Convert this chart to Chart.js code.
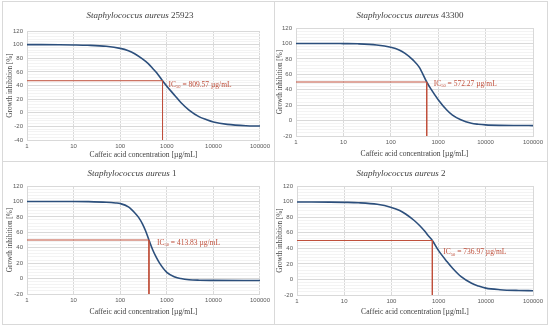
<!DOCTYPE html>
<html>
<head>
<meta charset="utf-8">
<script src="https://cdn.jsdelivr.net/npm/chart.js@4.4.1/dist/chart.umd.min.js"></script>
<style>
  body { margin: 0; background: #fff; }
  #wrap { position: relative; width: 550px; height: 326px; overflow: hidden; }
  canvas { position: absolute; }
  .box { position: absolute; border: 1px solid #d9d9d9; box-sizing: border-box; }
</style>
</head>
<body>
<div id="wrap">
  <div class="box" style="left:2px;top:1px;width:273px;height:161px"></div>
  <div class="box" style="left:274px;top:1px;width:274px;height:161px"></div>
  <div class="box" style="left:2px;top:161px;width:273px;height:164px"></div>
  <div class="box" style="left:274px;top:161px;width:274px;height:164px"></div>
  <canvas id="c1" width="273" height="161" style="left:0;top:0"></canvas>
  <canvas id="c2" width="275" height="161" style="left:275px;top:0"></canvas>
  <canvas id="c3" width="273" height="163" style="left:0;top:163px"></canvas>
  <canvas id="c4" width="275" height="163" style="left:275px;top:163px"></canvas>
</div>
<script>
// strain numbers (the species name is the same for all)
var strains = ["25923", "43300", "1", "2"];
var ic50 = [809.57, 572.27, 413.83, 736.97];
var ic50Labels = ["809.57", "572.27", "413.83", "736.97"];
var ic50LineY = [47, 50, 50, 50];
var yMins = [-40, -20, -20, -20];
var xTicks = [1, 10, 100, 1000, 10000, 100000];

// concentration [µg/mL] and growth inhibition [%]
var conc1 = [1, 2, 5, 10, 20, 50, 100, 150, 200, 300, 400, 500, 600, 809.57, 1000, 1500, 2000, 3000, 5000, 7000, 10000, 20000, 50000, 100000];
var inh1  = [100, 100, 99.8, 99.5, 99, 97.5, 94.5, 91, 87, 79, 72, 65, 59, 47, 39, 25, 15, 4, -6, -10, -13.5, -17, -19, -19.5];

var conc2 = [1, 2, 5, 10, 20, 50, 100, 150, 200, 300, 400, 572.27, 700, 1000, 1500, 2000, 3000, 5000, 7000, 10000, 20000, 50000, 100000];
var inh2  = [100, 100, 100, 99.8, 99.5, 98, 95, 91.5, 87, 78, 69, 50, 41, 27, 14, 7, 1, -3.5, -4.8, -5.6, -6.2, -6.4, -6.5];

var conc3 = [1, 2, 5, 10, 20, 50, 80, 100, 150, 200, 250, 300, 350, 413.83, 500, 600, 700, 1000, 1500, 2000, 3000, 5000, 10000, 100000];
var inh3  = [100, 100, 100, 100, 99.8, 99, 98, 97.2, 93, 86, 79, 71, 62, 50, 37, 27, 20, 8, 2, 0, -1.5, -2.1, -2.3, -2.5];

var conc4 = [1, 2, 5, 10, 20, 50, 100, 150, 200, 300, 400, 500, 600, 736.97, 1000, 1500, 2000, 3000, 5000, 7000, 10000, 20000, 50000, 100000];
var inh4  = [99.5, 99.5, 99.3, 99, 98.5, 96.5, 92.5, 88.5, 84, 76, 69, 62.5, 56.5, 50, 37, 23, 14, 3.5, -5, -8.5, -11.2, -13.2, -14.2, -14.5];

var concs = [conc1, conc2, conc3, conc4];
var inhs = [inh1, inh2, inh3, inh4];

// panel geometry (plot area inside each canvas)
var geo = [
  { top: 31, left: 27, right: 11, xh: 21, titleX: 140, titleY: 16, yTitlePad: 6, xTitlePad: 1, lab: [6, 4] },
  { top: 28, left: 21, right: 17, xh: 25, titleX: 135, titleY: 16, yTitlePad: 1, xTitlePad: 2, lab: [7, 2] },
  { top: 23, left: 27, right: 11, xh: 32, titleX: 132, titleY: 11, yTitlePad: 6, xTitlePad: 9, lab: [8, 3] },
  { top: 23, left: 22, right: 17, xh: 31, titleX: 126, titleY: 11, yTitlePad: 1, xTitlePad: 9, lab: [11, 12] }
];

var redColor = "#c0503c";
var blueColor = "#2c4f7c";

var textPlugin = {
  id: "panelText",
  afterDraw: function(chart) {
    var i = chart.options.plugins.panelText.idx;
    var g = geo[i];
    var ctx = chart.ctx;
    ctx.save();
    // title: italic species + strain
    ctx.textBaseline = "middle";
    ctx.fillStyle = "#404040";
    var f1 = "italic 9px 'Liberation Serif'";
    var f2 = "9px 'Liberation Serif'";
    ctx.font = f1;
    var a = "Staphylococcus aureus ";
    var w1 = ctx.measureText(a).width;
    ctx.font = f2;
    var w2 = ctx.measureText(strains[i]).width;
    var x0 = g.titleX - (w1 + w2) / 2;
    ctx.font = f1;
    ctx.fillText(a, x0, g.titleY);
    ctx.font = f2;
    ctx.fillText(strains[i], x0 + w1, g.titleY);

    // IC50 label
    var xs = chart.scales.x, ys = chart.scales.y;
    var px = xs.getPixelForValue(ic50[i]) + g.lab[0];
    var py = ys.getPixelForValue(ic50LineY[i]) + g.lab[1];
    ctx.fillStyle = redColor;
    ctx.font = "7.5px 'Liberation Serif'";
    ctx.fillText("IC", px, py);
    var wi = ctx.measureText("IC").width;
    ctx.font = "4.5px 'Liberation Serif'";
    ctx.fillText("50", px + wi, py + 2);
    var ws = ctx.measureText("50").width;
    ctx.font = "7.5px 'Liberation Serif'";
    ctx.fillText(" = " + ic50Labels[i] + " µg/mL", px + wi + ws, py);
    ctx.restore();
  }
};

function makeChart(i) {
  var g = geo[i];
  var curve = concs[i].map(function(c, k) { return { x: c, y: inhs[i][k] }; });
  var guide = [
    { x: 1, y: ic50LineY[i] },
    { x: ic50[i], y: ic50LineY[i] },
    { x: ic50[i], y: yMins[i] }
  ];
  new Chart(document.getElementById("c" + (i + 1)), {
    type: "line",
    data: {
      datasets: [{
        data: guide,
        borderColor: redColor,
        borderWidth: 1,
        pointRadius: 0,
        tension: 0
      }, {
        data: curve,
        borderColor: blueColor,
        borderWidth: 1.6,
        pointRadius: 0,
        cubicInterpolationMode: "monotone"
      }]
    },
    options: {
      responsive: false,
      animation: false,
      layout: { padding: { top: g.top, right: g.right, left: 0, bottom: 0 } },
      plugins: {
        legend: { display: false },
        tooltip: { enabled: false },
        panelText: { idx: i }
      },
      scales: {
        x: {
          type: "logarithmic",
          min: 1,
          max: 100000,
          afterBuildTicks: function(s) { s.ticks = xTicks.map(function(v) { return { value: v }; }); },
          afterFit: function(s) { s.height = g.xh; },
          ticks: {
            autoSkip: false,
            maxRotation: 0,
            padding: 3,
            color: "#595959",
            font: { family: "Liberation Sans", size: 6 },
            callback: function(v) { return String(v); }
          },
          grid: { color: "#d9d9d9", drawTicks: false },
          border: { color: "#d9d9d9" },
          title: {
            display: true,
            text: "Caffeic acid concentration [µg/mL]",
            color: "#404040",
            font: { family: "Liberation Serif", size: 7.6 },
            padding: { top: 0, bottom: g.xTitlePad }
          }
        },
        y: {
          min: yMins[i],
          max: 120,
          afterFit: function(s) { s.width = g.left; },
          ticks: {
            stepSize: 4,
            autoSkip: false,
            padding: 4,
            color: "#595959",
            font: { family: "Liberation Sans", size: 6 },
            callback: function(v) { return v % 20 === 0 ? String(v) : ""; }
          },
          grid: {
            drawTicks: false,
            color: function(c) { return (c.tick && c.tick.value % 20 === 0) ? "#d9d9d9" : "#f3f3f3"; }
          },
          border: { color: "#d9d9d9" },
          title: {
            display: true,
            text: "Growth inhibition [%]",
            color: "#404040",
            font: { family: "Liberation Serif", size: 7.2 },
            padding: { top: g.yTitlePad, bottom: 0 }
          }
        }
      }
    },
    plugins: [textPlugin]
  });
}

for (var i = 0; i < 4; i++) makeChart(i);
</script>
</body>
</html>
